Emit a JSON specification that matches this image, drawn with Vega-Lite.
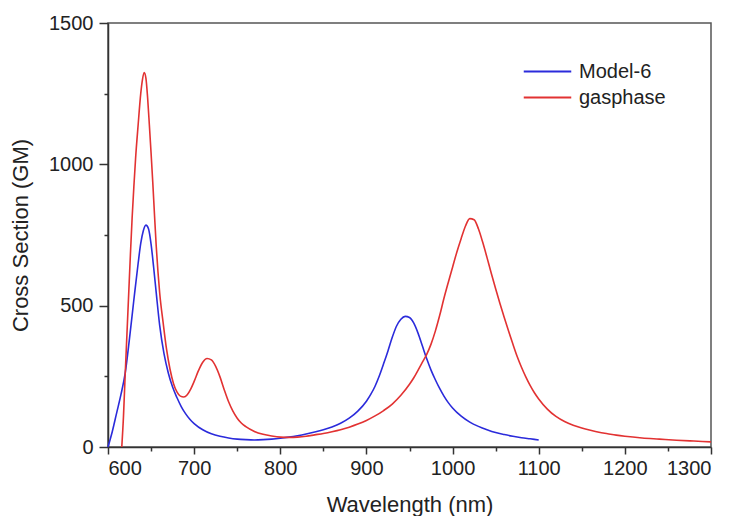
{
  "$schema": "https://vega.github.io/schema/vega-lite/v6.json",
  "width": 603,
  "height": 424,
  "autosize": {"type": "none"},
  "padding": {"left": 108, "top": 23, "right": 26, "bottom": 69},
  "background": "white",
  "config": {
    "view": {"stroke": "#555555", "strokeWidth": 1.5},
    "font": "Liberation Sans",
    "axis": {"labelFont": "Liberation Sans", "titleFont": "Liberation Sans", "labelFontSize": 20, "titleFontSize": 22, "titleFontWeight": "normal", "labelColor": "#222", "titleColor": "#222", "domainColor": "#333", "tickColor": "#333", "domainWidth": 1.5, "tickWidth": 1.5, "grid": false},
    "legend": {"labelFont": "Liberation Sans", "labelFontSize": 20, "labelColor": "#222"}
  },
  "data": {"values": [
    {"wl":600,"cs":0,"series":"Model-6"},{"wl":605,"cs":55,"series":"Model-6"},{"wl":610,"cs":120,"series":"Model-6"},{"wl":615,"cs":185,"series":"Model-6"},{"wl":620,"cs":262,"series":"Model-6"},{"wl":625,"cs":385,"series":"Model-6"},{"wl":630,"cs":520,"series":"Model-6"},{"wl":635,"cs":650,"series":"Model-6"},{"wl":638,"cs":720,"series":"Model-6"},{"wl":641,"cs":765,"series":"Model-6"},{"wl":644,"cs":785,"series":"Model-6"},{"wl":647,"cs":772,"series":"Model-6"},{"wl":650,"cs":718,"series":"Model-6"},{"wl":653,"cs":635,"series":"Model-6"},{"wl":656,"cs":545,"series":"Model-6"},{"wl":660,"cs":430,"series":"Model-6"},{"wl":665,"cs":330,"series":"Model-6"},{"wl":670,"cs":262,"series":"Model-6"},{"wl":675,"cs":212,"series":"Model-6"},{"wl":680,"cs":175,"series":"Model-6"},{"wl":685,"cs":143,"series":"Model-6"},{"wl":690,"cs":118,"series":"Model-6"},{"wl":695,"cs":98,"series":"Model-6"},{"wl":700,"cs":83,"series":"Model-6"},{"wl":710,"cs":61,"series":"Model-6"},{"wl":720,"cs":47,"series":"Model-6"},{"wl":730,"cs":38,"series":"Model-6"},{"wl":740,"cs":32,"series":"Model-6"},{"wl":750,"cs":28,"series":"Model-6"},{"wl":760,"cs":26,"series":"Model-6"},{"wl":770,"cs":25,"series":"Model-6"},{"wl":780,"cs":26,"series":"Model-6"},{"wl":790,"cs":28,"series":"Model-6"},{"wl":800,"cs":31,"series":"Model-6"},{"wl":810,"cs":35,"series":"Model-6"},{"wl":820,"cs":40,"series":"Model-6"},{"wl":830,"cs":46,"series":"Model-6"},{"wl":840,"cs":53,"series":"Model-6"},{"wl":850,"cs":61,"series":"Model-6"},{"wl":860,"cs":71,"series":"Model-6"},{"wl":870,"cs":84,"series":"Model-6"},{"wl":880,"cs":102,"series":"Model-6"},{"wl":890,"cs":127,"series":"Model-6"},{"wl":900,"cs":162,"series":"Model-6"},{"wl":905,"cs":186,"series":"Model-6"},{"wl":910,"cs":215,"series":"Model-6"},{"wl":915,"cs":252,"series":"Model-6"},{"wl":920,"cs":295,"series":"Model-6"},{"wl":925,"cs":340,"series":"Model-6"},{"wl":930,"cs":388,"series":"Model-6"},{"wl":935,"cs":428,"series":"Model-6"},{"wl":940,"cs":452,"series":"Model-6"},{"wl":945,"cs":462,"series":"Model-6"},{"wl":950,"cs":458,"series":"Model-6"},{"wl":955,"cs":438,"series":"Model-6"},{"wl":960,"cs":402,"series":"Model-6"},{"wl":965,"cs":357,"series":"Model-6"},{"wl":970,"cs":312,"series":"Model-6"},{"wl":975,"cs":272,"series":"Model-6"},{"wl":980,"cs":238,"series":"Model-6"},{"wl":985,"cs":207,"series":"Model-6"},{"wl":990,"cs":180,"series":"Model-6"},{"wl":995,"cs":157,"series":"Model-6"},{"wl":1000,"cs":138,"series":"Model-6"},{"wl":1010,"cs":109,"series":"Model-6"},{"wl":1020,"cs":88,"series":"Model-6"},{"wl":1030,"cs":73,"series":"Model-6"},{"wl":1040,"cs":61,"series":"Model-6"},{"wl":1050,"cs":51,"series":"Model-6"},{"wl":1060,"cs":44,"series":"Model-6"},{"wl":1070,"cs":38,"series":"Model-6"},{"wl":1080,"cs":33,"series":"Model-6"},{"wl":1090,"cs":29,"series":"Model-6"},{"wl":1100,"cs":25,"series":"Model-6"},
    {"wl":616,"cs":0,"series":"gasphase"},{"wl":618,"cs":110,"series":"gasphase"},{"wl":620,"cs":260,"series":"gasphase"},{"wl":622,"cs":400,"series":"gasphase"},{"wl":624,"cs":540,"series":"gasphase"},{"wl":626,"cs":680,"series":"gasphase"},{"wl":628,"cs":810,"series":"gasphase"},{"wl":630,"cs":920,"series":"gasphase"},{"wl":632,"cs":1020,"series":"gasphase"},{"wl":635,"cs":1140,"series":"gasphase"},{"wl":638,"cs":1250,"series":"gasphase"},{"wl":640,"cs":1300,"series":"gasphase"},{"wl":642,"cs":1325,"series":"gasphase"},{"wl":644,"cs":1305,"series":"gasphase"},{"wl":646,"cs":1235,"series":"gasphase"},{"wl":648,"cs":1140,"series":"gasphase"},{"wl":650,"cs":1040,"series":"gasphase"},{"wl":652,"cs":935,"series":"gasphase"},{"wl":654,"cs":820,"series":"gasphase"},{"wl":656,"cs":710,"series":"gasphase"},{"wl":658,"cs":620,"series":"gasphase"},{"wl":660,"cs":545,"series":"gasphase"},{"wl":664,"cs":440,"series":"gasphase"},{"wl":668,"cs":345,"series":"gasphase"},{"wl":672,"cs":275,"series":"gasphase"},{"wl":676,"cs":225,"series":"gasphase"},{"wl":680,"cs":195,"series":"gasphase"},{"wl":684,"cs":180,"series":"gasphase"},{"wl":688,"cs":177,"series":"gasphase"},{"wl":692,"cs":185,"series":"gasphase"},{"wl":696,"cs":205,"series":"gasphase"},{"wl":700,"cs":232,"series":"gasphase"},{"wl":705,"cs":270,"series":"gasphase"},{"wl":710,"cs":300,"series":"gasphase"},{"wl":715,"cs":313,"series":"gasphase"},{"wl":720,"cs":308,"series":"gasphase"},{"wl":725,"cs":285,"series":"gasphase"},{"wl":730,"cs":248,"series":"gasphase"},{"wl":735,"cs":202,"series":"gasphase"},{"wl":740,"cs":160,"series":"gasphase"},{"wl":745,"cs":127,"series":"gasphase"},{"wl":750,"cs":102,"series":"gasphase"},{"wl":755,"cs":84,"series":"gasphase"},{"wl":760,"cs":72,"series":"gasphase"},{"wl":770,"cs":55,"series":"gasphase"},{"wl":780,"cs":45,"series":"gasphase"},{"wl":790,"cs":39,"series":"gasphase"},{"wl":800,"cs":35,"series":"gasphase"},{"wl":810,"cs":34,"series":"gasphase"},{"wl":820,"cs":35,"series":"gasphase"},{"wl":830,"cs":38,"series":"gasphase"},{"wl":840,"cs":43,"series":"gasphase"},{"wl":850,"cs":48,"series":"gasphase"},{"wl":860,"cs":54,"series":"gasphase"},{"wl":870,"cs":61,"series":"gasphase"},{"wl":880,"cs":70,"series":"gasphase"},{"wl":890,"cs":81,"series":"gasphase"},{"wl":900,"cs":94,"series":"gasphase"},{"wl":910,"cs":110,"series":"gasphase"},{"wl":920,"cs":129,"series":"gasphase"},{"wl":930,"cs":152,"series":"gasphase"},{"wl":940,"cs":183,"series":"gasphase"},{"wl":950,"cs":222,"series":"gasphase"},{"wl":955,"cs":245,"series":"gasphase"},{"wl":960,"cs":272,"series":"gasphase"},{"wl":965,"cs":300,"series":"gasphase"},{"wl":970,"cs":328,"series":"gasphase"},{"wl":975,"cs":364,"series":"gasphase"},{"wl":980,"cs":410,"series":"gasphase"},{"wl":985,"cs":465,"series":"gasphase"},{"wl":990,"cs":526,"series":"gasphase"},{"wl":995,"cs":582,"series":"gasphase"},{"wl":1000,"cs":636,"series":"gasphase"},{"wl":1005,"cs":690,"series":"gasphase"},{"wl":1010,"cs":738,"series":"gasphase"},{"wl":1015,"cs":782,"series":"gasphase"},{"wl":1020,"cs":808,"series":"gasphase"},{"wl":1025,"cs":804,"series":"gasphase"},{"wl":1030,"cs":772,"series":"gasphase"},{"wl":1035,"cs":724,"series":"gasphase"},{"wl":1040,"cs":670,"series":"gasphase"},{"wl":1045,"cs":614,"series":"gasphase"},{"wl":1050,"cs":560,"series":"gasphase"},{"wl":1055,"cs":508,"series":"gasphase"},{"wl":1060,"cs":458,"series":"gasphase"},{"wl":1065,"cs":410,"series":"gasphase"},{"wl":1070,"cs":364,"series":"gasphase"},{"wl":1075,"cs":320,"series":"gasphase"},{"wl":1080,"cs":282,"series":"gasphase"},{"wl":1085,"cs":248,"series":"gasphase"},{"wl":1090,"cs":218,"series":"gasphase"},{"wl":1095,"cs":192,"series":"gasphase"},{"wl":1100,"cs":170,"series":"gasphase"},{"wl":1110,"cs":134,"series":"gasphase"},{"wl":1120,"cs":108,"series":"gasphase"},{"wl":1130,"cs":90,"series":"gasphase"},{"wl":1140,"cs":77,"series":"gasphase"},{"wl":1150,"cs":67,"series":"gasphase"},{"wl":1160,"cs":59,"series":"gasphase"},{"wl":1170,"cs":52,"series":"gasphase"},{"wl":1180,"cs":47,"series":"gasphase"},{"wl":1190,"cs":42,"series":"gasphase"},{"wl":1200,"cs":38,"series":"gasphase"},{"wl":1220,"cs":32,"series":"gasphase"},{"wl":1240,"cs":28,"series":"gasphase"},{"wl":1260,"cs":24,"series":"gasphase"},{"wl":1280,"cs":21,"series":"gasphase"},{"wl":1300,"cs":18,"series":"gasphase"}
  ]},
  "layer": [
    {
      "mark": {"type": "line", "strokeOpacity": 0},
      "encoding": {
        "x": {"field": "wl", "type": "quantitative", "scale": {"domain": [600, 1300], "nice": false, "zero": false},
              "axis": {"orient": "bottom", "values": [650, 750, 850, 950, 1050, 1150, 1250], "labels": false, "domain": false, "tickSize": 4, "title": null}},
        "y": {"field": "cs", "type": "quantitative", "scale": {"domain": [0, 1500], "nice": false},
              "axis": {"orient": "left", "values": [250, 750, 1250], "labels": false, "domain": false, "tickSize": 4, "title": null}},
        "detail": {"field": "series"}
      }
    },
    {
      "mark": {"type": "line", "strokeWidth": 1.6, "interpolate": "monotone"},
      "encoding": {
        "x": {"field": "wl", "type": "quantitative", "scale": {"domain": [600, 1300], "nice": false, "zero": false},
              "axis": {"orient": "bottom", "values": [600, 700, 800, 900, 1000, 1100, 1200, 1300], "format": "d", "tickSize": 7, "labelPadding": 4, "title": "Wavelength (nm)", "titlePadding": 16}},
        "y": {"field": "cs", "type": "quantitative", "scale": {"domain": [0, 1500], "nice": false},
              "axis": {"orient": "left", "values": [0, 500, 1000, 1500], "format": "d", "tickSize": 9, "labelPadding": 6, "title": "Cross Section (GM)", "titlePadding": 16}},
        "color": {"field": "series", "type": "nominal",
                  "scale": {"domain": ["Model-6", "gasphase"], "range": ["#2b2bdb", "#e23232"]},
                  "legend": {"title": null, "orient": "none", "legendX": 429, "legendY": 38, "symbolType": "M-2.5,0H2.5", "symbolSize": 361, "symbolStrokeWidth": 1.8, "labelOffset": 21, "rowPadding": 5, "padding": 0}}
      }
    }
  ],
  "resolve": {"axis": {"x": "independent", "y": "independent"}}
}
